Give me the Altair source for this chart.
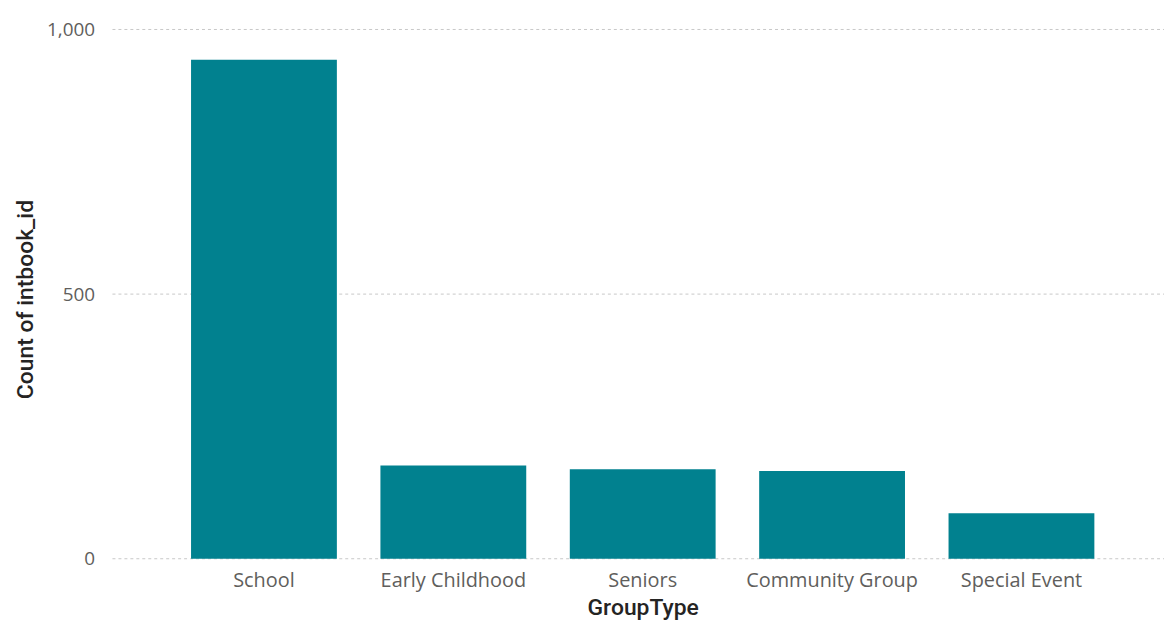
import altair as alt
import pandas as pd

categories = ["School", "Early Childhood", "Seniors", "Community Group", "Special Event"]
counts = [943, 176, 169, 166, 86]
y_ticks = [0, 500, 1000]

df = pd.DataFrame({"GroupType": categories, "Count of intbook_id": counts})
grid_df = pd.DataFrame({"Count of intbook_id": y_ticks})

label_font = "Open Sans"
title_font = "Roboto"
W, H = 1057, 532

y_axis = alt.Axis(
    values=y_ticks,
    format=",.0f",
    labelFont=label_font,
    labelFontSize=19,
    labelColor="#605E5C",
    labelPadding=18,
    ticks=False,
    domain=False,
    grid=False,
    titleFont=title_font,
    titleFontSize=23,
    titleFontWeight=500,
    titleColor="#252423",
    titleBaseline="alphabetic",
    titleAlign="center",
    titleAngle=270,
    titleX=-80,
    titleY=271,
)
y_scale = alt.Scale(domain=[0, 1000], nice=False)

grid = alt.Chart(grid_df).mark_rule(
    color="#C8C8C8", strokeDash=[3, 3], strokeWidth=1
).encode(
    y=alt.Y("Count of intbook_id:Q", title="Count of intbook_id",
            scale=y_scale, axis=y_axis),
    x=alt.value(0),
    x2=alt.value(W),
)

bars = alt.Chart(df).mark_bar(color="#01818F").encode(
    x=alt.X(
        "GroupType:N",
        sort=categories,
        title="GroupType",
        scale=alt.Scale(range=[79, 987], paddingInner=0.23, paddingOuter=0),
        axis=alt.Axis(
            labelAngle=0,
            labelFont=label_font,
            labelFontSize=20,
            labelColor="#605E5C",
            labelBaseline="alphabetic",
            labelPadding=28,
            ticks=False,
            domain=False,
            grid=False,
            titleFont=title_font,
            titleFontSize=23,
            titleFontWeight=500,
            titleColor="#252423",
            titleBaseline="alphabetic",
            titleY=56,
        ),
    ),
    y=alt.Y("Count of intbook_id:Q", title="Count of intbook_id",
            scale=y_scale, axis=y_axis),
)

chart = alt.layer(grid, bars).properties(
    width=W,
    height=H,
    autosize=alt.AutoSizeParams(type="none"),
    padding={"left": 105, "top": 20, "right": 0, "bottom": 62},
).configure_view(stroke=None)

chart.save("out.html", embed_options={"renderer": "svg", "actions": False})
